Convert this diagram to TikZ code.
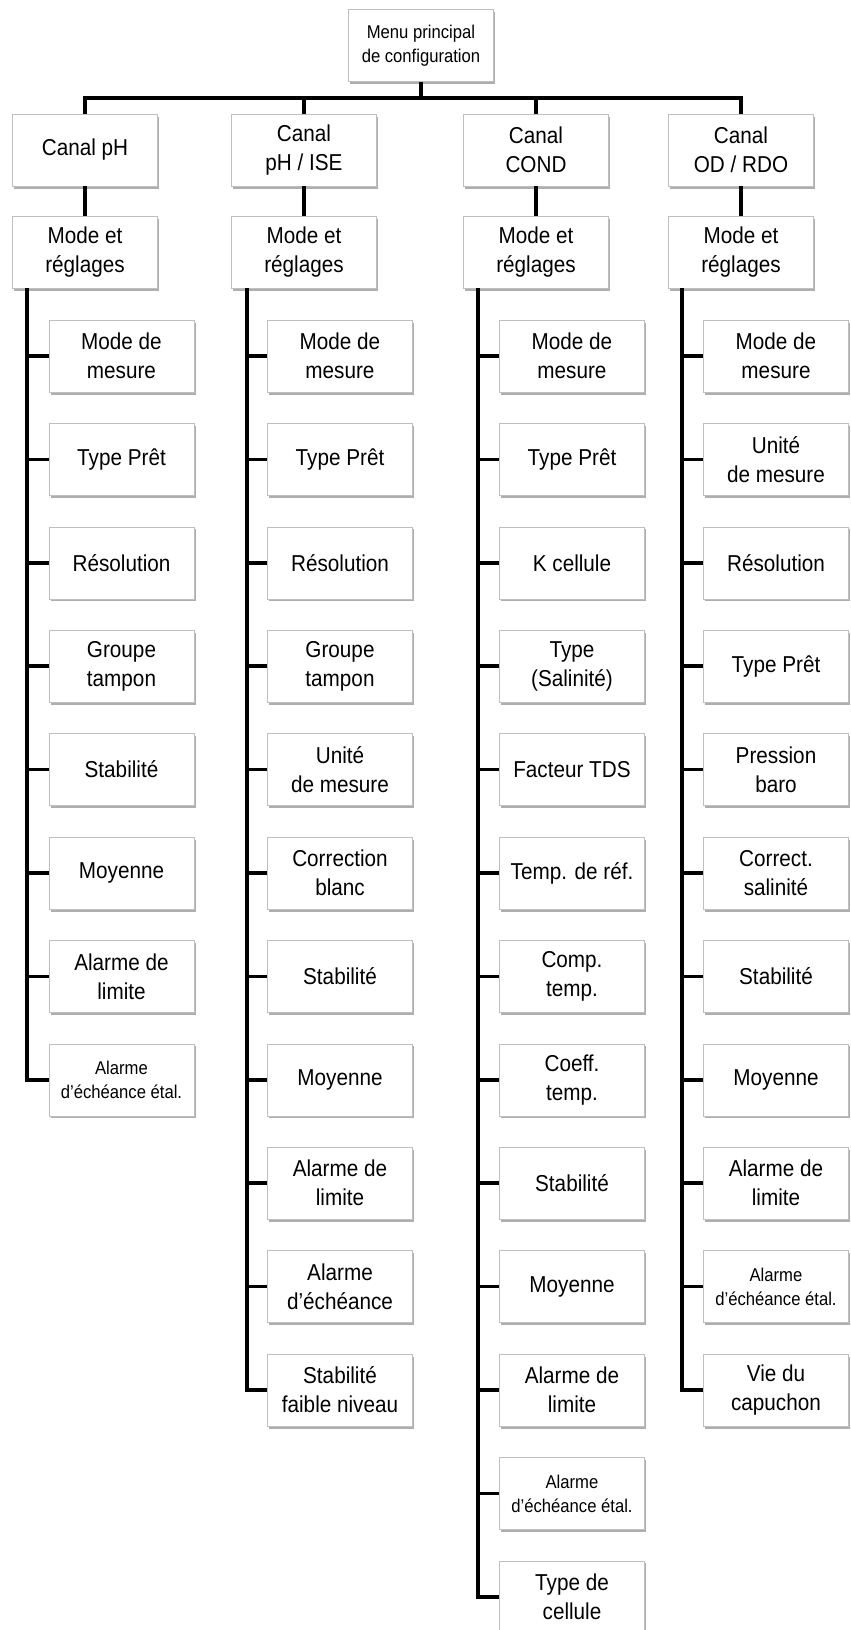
\documentclass[tikz,border=0pt]{standalone}
\usepackage{fontspec}
\setmainfont{Liberation Sans}[FakeStretch=0.9]
\usetikzlibrary{shadows}

\begin{document}
\begin{tikzpicture}[
      x=1pt, y=-1pt,
      box/.style={draw=black!25, fill=white, line width=0.6pt, align=center,
        minimum width=145pt, minimum height=72pt, inner sep=2pt,
        font=\fontsize{23}{29}\selectfont,
        drop shadow={shadow xshift=1.5pt, shadow yshift=-2.5pt, fill=black!45, opacity=0.7}},
      smalltxt/.style={font=\fontsize{18.5}{24}\selectfont},
      wire/.style={line width=3.5pt},
      ]
  \useasboundingbox (0,0) rectangle (851,1630);

  % top and channels
  \node[box, smalltxt] (menu) at (421,45.5) {Menu principal\\de configuration};
  \node[box] (ph)  at (85,150)  {Canal pH};
  \node[box] (ise) at (304,150) {Canal\\pH / ISE};
  \node[box] (cd)  at (536,150) {Canal\\COND};
  \node[box] (od)  at (741,150) {Canal\\OD / RDO};

  \node[box] (phm)  at (85,252)  {Mode et\\réglages};
  \node[box] (isem) at (304,252) {Mode et\\réglages};
  \node[box] (cdm)  at (536,252) {Mode et\\réglages};
  \node[box] (odm)  at (741,252) {Mode et\\réglages};

  \coordinate (bus) at (421,98);
  \draw[wire] (menu.south) -- (bus);
  \draw[wire] (ph.north) |- (bus) -| (od.north);
  \draw[wire] (ise.north) -- (ise.north |- bus);
  \draw[wire] (cd.north) -- (cd.north |- bus);
  \draw[wire] (ph) -- (phm);
  \draw[wire] (ise) -- (isem);
  \draw[wire] (cd) -- (cdm);
  \draw[wire] (od) -- (odm);

  % Canal pH
  \foreach \t [count=\i] in {{Mode de\\mesure}, Type Prêt, Résolution, {Groupe\\tampon},
      Stabilité, Moyenne, {Alarme de\\limite}}
    \node[box] (ph\i) at (121.5, {356+(\i-1)*103.4}) {\t};
  \node[box, smalltxt] (ph8) at (121.5, {356+7*103.4}) {Alarme\\d’échéance étal.};
  \coordinate (pht) at (27,288);
  \draw[wire] (pht) |- (ph8.west);
  \foreach \i in {1,...,7}
    \draw[wire] (pht |- ph\i.west) -- (ph\i.west);

  % Canal pH / ISE
  \foreach \t [count=\i] in {{Mode de\\mesure}, Type Prêt, Résolution, {Groupe\\tampon},
      {Unité\\de mesure}, {Correction\\blanc}, Stabilité, Moyenne, {Alarme de\\limite},
      {Alarme\\d’échéance}, {Stabilité\\faible niveau}}
    \node[box] (ise\i) at (340, {356+(\i-1)*103.4}) {\t};
  \coordinate (iset) at (247,288);
  \draw[wire] (iset) |- (ise11.west);
  \foreach \i in {1,...,10}
    \draw[wire] (iset |- ise\i.west) -- (ise\i.west);

  % Canal COND
  \foreach \t [count=\i] in {{Mode de\\mesure}, Type Prêt, K cellule, {Type\\(Salinité)},
      Facteur TDS, Temp. de réf., {Comp.\\temp.}, {Coeff.\\temp.}, Stabilité, Moyenne,
      {Alarme de\\limite}}
    \node[box] (cd\i) at (572, {356+(\i-1)*103.4}) {\t};
  \node[box, smalltxt] (cd12) at (572, {356+11*103.4}) {Alarme\\d’échéance étal.};
  \node[box] (cd13) at (572, {356+12*103.4}) {Type de\\cellule};
  \coordinate (cdt) at (478,288);
  \draw[wire] (cdt) |- (cd13.west);
  \foreach \i in {1,...,12}
    \draw[wire] (cdt |- cd\i.west) -- (cd\i.west);

  % Canal OD / RDO
  \foreach \t [count=\i] in {{Mode de\\mesure}, {Unité\\de mesure}, Résolution, Type Prêt,
      {Pression\\baro}, {Correct.\\salinité}, Stabilité, Moyenne, {Alarme de\\limite}}
    \node[box] (od\i) at (776, {356+(\i-1)*103.4}) {\t};
  \node[box, smalltxt] (od10) at (776, {356+9*103.4}) {Alarme\\d’échéance étal.};
  \node[box] (od11) at (776, {356+10*103.4}) {Vie du\\capuchon};
  \coordinate (odt) at (682,288);
  \draw[wire] (odt) |- (od11.west);
  \foreach \i in {1,...,10}
    \draw[wire] (odt |- od\i.west) -- (od\i.west);

\end{tikzpicture}
\end{document}
